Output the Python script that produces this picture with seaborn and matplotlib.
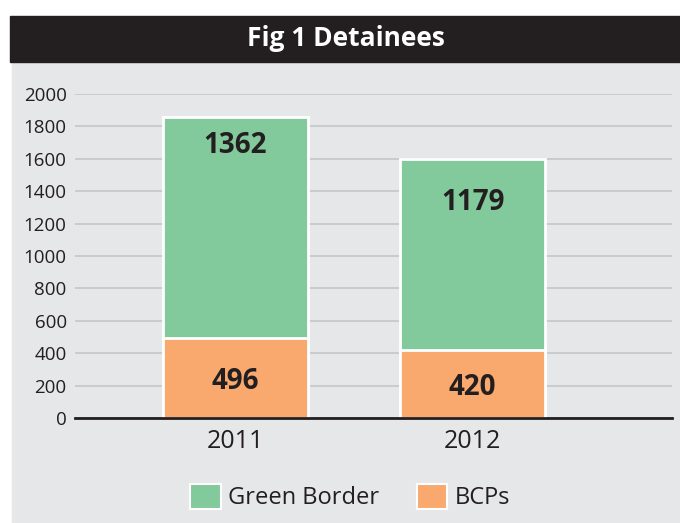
import matplotlib
matplotlib.use("Agg")
import matplotlib.pyplot as plt
import matplotlib.patches as mpatches
import pandas as pd
import seaborn as sns

# ─────────────────────────────────────────────
# DATA
# ─────────────────────────────────────────────
YEARS = ["2011", "2012"]
GREEN_BORDER = [1362, 1179]
BCPS = [496, 420]
# where the green label sits inside its segment (fraction of segment height)
GREEN_LABEL_FRAC = [0.87, 0.77]
Y_TICKS = [0, 200, 400, 600, 800, 1000, 1200, 1400, 1600, 1800, 2000]

TITLE = "Fig 1 Detainees"
GREEN = "#82ca9c"
ORANGE = "#f9a96e"
PANEL = "#e6e7e8"
DARK = "#231f20"

sns.set_style("white")
plt.rcParams["font.family"] = ["Open Sans", "DejaVu Sans"]

df = pd.DataFrame({"year": YEARS, "green": GREEN_BORDER, "bcps": BCPS})
df["total"] = df["green"] + df["bcps"]

fig = plt.figure(figsize=(6.8, 5.23), dpi=100)
fig.patch.set_facecolor("white")

# background panel + title band
fig.add_artist(mpatches.Rectangle((12 / 680, 0), 1, 1 - 62 / 523,
                                  transform=fig.transFigure, color=PANEL, zorder=0))
fig.add_artist(mpatches.Rectangle((10 / 680, 1 - 62 / 523), 1, 46 / 523,
                                  transform=fig.transFigure, color=DARK, zorder=0))
fig.text(346 / 680, 1 - 38 / 523, TITLE, color="white", fontsize=19,
         fontweight="bold", ha="center", va="center",
         family=["Liberation Sans Narrow", "Open Sans", "DejaVu Sans"])

ax = fig.add_axes([75 / 680, 1 - 418 / 523, 597 / 680, 324 / 523])
ax.set_facecolor("none")

sns.barplot(data=df, x="year", y="total", color=GREEN, width=0.61,
            edgecolor="white", linewidth=2, saturation=1, ax=ax, zorder=3)
sns.barplot(data=df, x="year", y="bcps", color=ORANGE, width=0.61,
            edgecolor="white", linewidth=2, saturation=1, ax=ax, zorder=3)

for i, row in df.iterrows():
    ax.text(i, row["bcps"] + row["green"] * GREEN_LABEL_FRAC[i], f"{row['green']}",
            ha="center", va="center", fontsize=20, fontweight="bold",
            color=DARK, zorder=5)
    ax.text(i, row["bcps"] * 0.45, f"{row['bcps']}",
            ha="center", va="center", fontsize=20, fontweight="bold",
            color=DARK, zorder=5)

ax.set_ylim(0, 2000)
ax.set_xlim(-0.675, 1.84)
ax.set_yticks(Y_TICKS)
ax.yaxis.grid(True, color="#c5c6c8", linewidth=1.2, zorder=1)
ax.set_axisbelow(True)
for s in ["left", "right", "top"]:
    ax.spines[s].set_visible(False)
ax.spines["bottom"].set_color(DARK)
ax.spines["bottom"].set_linewidth(2)
ax.spines["bottom"].set_zorder(6)
ax.tick_params(axis="y", length=0, pad=6, labelsize=13.5, labelcolor=DARK)
ax.tick_params(axis="x", length=0, pad=8, labelsize=18, labelcolor=DARK)
ax.set_xlabel("")
ax.set_ylabel("")

handles = [mpatches.Patch(facecolor=GREEN, edgecolor="white", linewidth=1.5, label="Green Border"),
           mpatches.Patch(facecolor=ORANGE, edgecolor="white", linewidth=1.5, label="BCPs")]
fig.legend(handles=handles, loc="center", bbox_to_anchor=(350 / 680, 1 - 497 / 523),
           ncol=2, frameon=False, fontsize=17, handlelength=1.3, handleheight=1.3,
           handletextpad=0.3, columnspacing=1.6, labelcolor=DARK)

fig.savefig("out.png", dpi=100, facecolor=fig.get_facecolor())
